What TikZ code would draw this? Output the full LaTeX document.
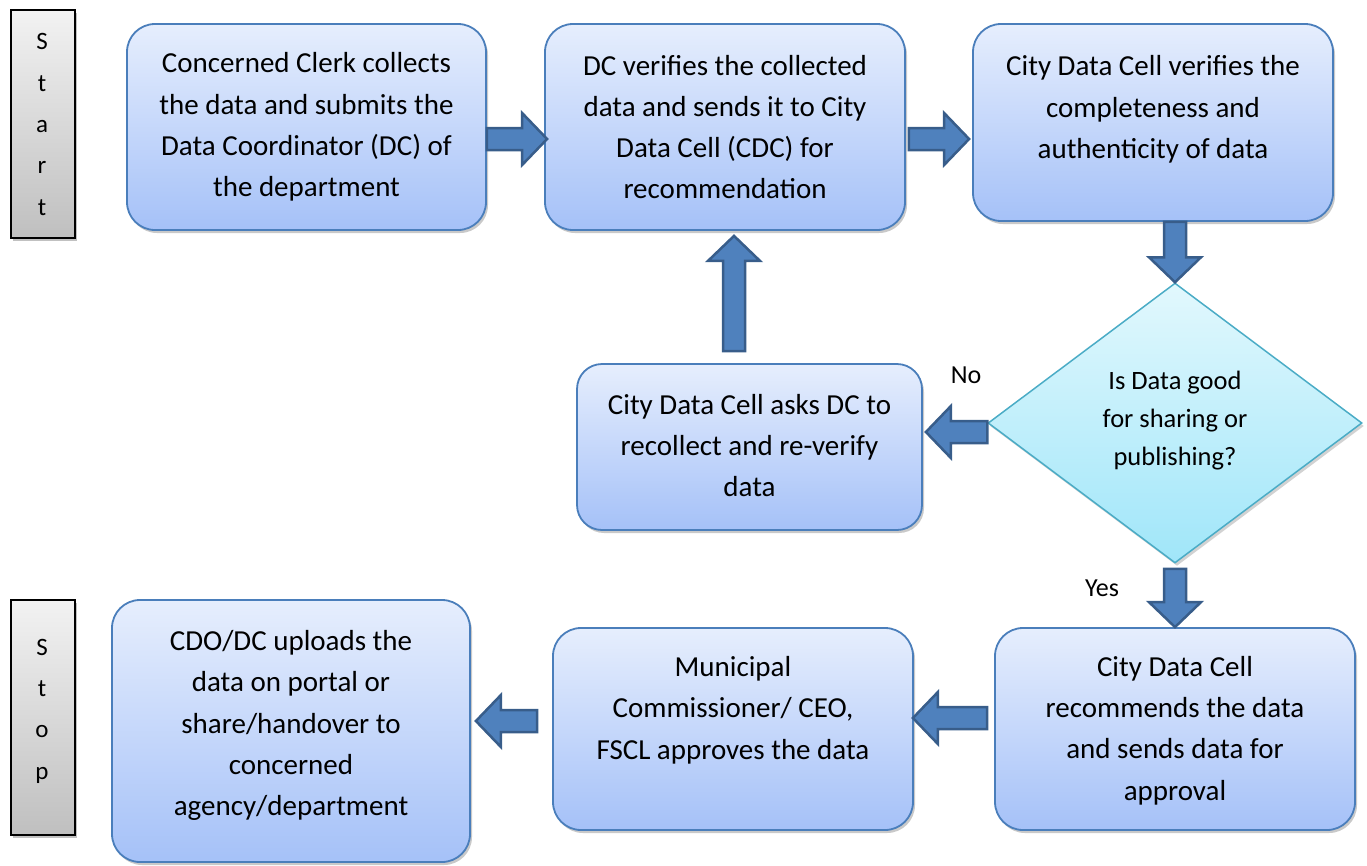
\documentclass[tikz,border=0pt]{standalone}
\usepackage{fontspec}
\setmainfont{Carlito}
\usetikzlibrary{calc,shadows,shapes.geometric}
\definecolor{boxtop}{HTML}{E6EEFD}
\definecolor{boxbot}{HTML}{A5C1F8}
\definecolor{boxline}{HTML}{4A7EBB}
\definecolor{dtop}{HTML}{E2F8FD}
\definecolor{dbot}{HTML}{A0E6F9}
\definecolor{dline}{HTML}{4BACC6}
\definecolor{arfill}{HTML}{4F81BD}
\definecolor{arline}{HTML}{385D8A}
\newcommand\blockarrow[2]{%
  \coordinate (ba-s) at #1;
  \coordinate (ba-e) at #2;
  \coordinate (ba-h) at ($(ba-e)!25pt!(ba-s)$);
  \draw[barrow] ($(ba-s)!11pt!90:(ba-e)$) -- ($(ba-h)!11pt!-90:(ba-s)$)
     -- ($(ba-h)!26pt!-90:(ba-s)$) -- (ba-e) -- ($(ba-h)!26pt!90:(ba-s)$)
     -- ($(ba-h)!11pt!90:(ba-s)$) -- ($(ba-s)!11pt!-90:(ba-e)$) -- cycle;}
\begin{document}
\begin{tikzpicture}[x=1pt,y=-1pt,
  bluebox/.style={draw=boxline, line width=1.8pt, rounded corners=28pt,
    top color=boxtop, bottom color=boxbot, inner sep=0pt,
    drop shadow={shadow xshift=2pt, shadow yshift=-3pt, opacity=0.3, fill=black!70}},
  graybox/.style={draw=black, line width=1.5pt, top color=black!5, bottom color=black!25,
    inner sep=0pt, drop shadow={shadow xshift=2pt, shadow yshift=-3pt, opacity=0.35, fill=black!70}},
  decision/.style={diamond, draw=dline, line width=1.5pt, top color=dtop, bottom color=dbot,
    inner sep=0pt, drop shadow={shadow xshift=2pt, shadow yshift=-3pt, opacity=0.25, fill=black!70}},
  txt/.style={align=center, font=\fontsize{29}{41.3}\selectfont},
  dtxt/.style={align=center, font=\fontsize{26.5}{38}\selectfont},
  lbl/.style={font=\fontsize{26}{30}\selectfont},
  sttxt/.style={align=center, font=\fontsize{25}{41.3}\selectfont},
  barrow/.style={fill=arfill, draw=arline, line width=2.5pt, line join=miter}]
\useasboundingbox (0,0) rectangle (1367,865);

% start / stop
\node[graybox, minimum width=64pt, minimum height=228pt] (start) at (43,124) {};
\node[sttxt] (starttxt) at (42,124.5) {S\\t\\a\\r\\t};
\node[graybox, minimum width=64pt, minimum height=235pt] (stop) at (43,717.5) {};
\node[sttxt] (stoptxt) at (42,711) {S\\t\\o\\p};

% boxes
\node[bluebox, minimum width=359pt, minimum height=206pt] (b1) at (306.5,127) {};
\node[txt] (t1) at (306.5,127) {Concerned Clerk collects\\the data and submits the\\Data Coordinator (DC) of\\the department};
\node[bluebox, minimum width=360pt, minimum height=206pt] (b2) at (725,127) {};
\node[txt] (t2) at (725,127) {DC verifies the collected\\data and sends it to City\\Data Cell (CDC) for\\recommendation};
\node[bluebox, minimum width=360pt, minimum height=197pt] (b3) at (1153,122.5) {};
\node[txt] (t3) at (1153,109.5) {City Data Cell verifies the\\completeness and\\authenticity of data};
\node[decision, minimum width=374pt, minimum height=280pt] (d) at (1175,423) {};
\node[dtxt] (dt) at (1175,421) {Is Data good\\for sharing or\\publishing?};
\node[bluebox, minimum width=345pt, minimum height=166pt, rounded corners=25pt] (b4) at (749.5,447) {};
\node[txt] (t4) at (749.5,445.5) {City Data Cell asks DC to\\recollect and re-verify\\data};
\node[bluebox, minimum width=360pt, minimum height=202pt] (b5) at (1175,729) {};
\node[txt] (t5) at (1175,730.5) {City Data Cell\\recommends the data\\and sends data for\\approval};
\node[bluebox, minimum width=360pt, minimum height=202pt] (b6) at (733,729) {};
\node[txt] (t6) at (733,710) {Municipal\\Commissioner/ CEO,\\FSCL approves the data};
\node[bluebox, minimum width=358pt, minimum height=262pt] (b7) at (291,731) {};
\node[txt] (t7) at (291,725.5) {CDO/DC uploads the\\data on portal or\\share/handover to\\concerned\\agency/department};

\node[lbl] (no) at (966,375) {No};
\node[lbl] (yes) at (1102,588) {Yes};

% block arrows
\blockarrow{([yshift=-12pt]b1.east)}{([xshift=3pt,yshift=-12pt]b2.west)}
\blockarrow{([xshift=3pt,yshift=-12pt]b2.east)}{([xshift=-3pt,yshift=-16.5pt]b3.west)}
\blockarrow{([xshift=22pt]b3.south)}{(d.north)}
\blockarrow{([yshift=-9pt]d.west)}{([xshift=3pt,yshift=15pt]b4.east)}
\blockarrow{([xshift=-15.5pt,yshift=12pt]b4.north)}{([xshift=9pt,yshift=-5pt]b2.south)}
\blockarrow{([yshift=-5pt]d.south)}{(b5.north)}
\blockarrow{([xshift=-7pt,yshift=11pt]b5.west)}{([xshift=-1pt,yshift=11pt]b6.east)}
\blockarrow{([xshift=-15pt,yshift=8pt]b6.west)}{([xshift=5pt,yshift=10pt]b7.east)}
\end{tikzpicture}
\end{document}
